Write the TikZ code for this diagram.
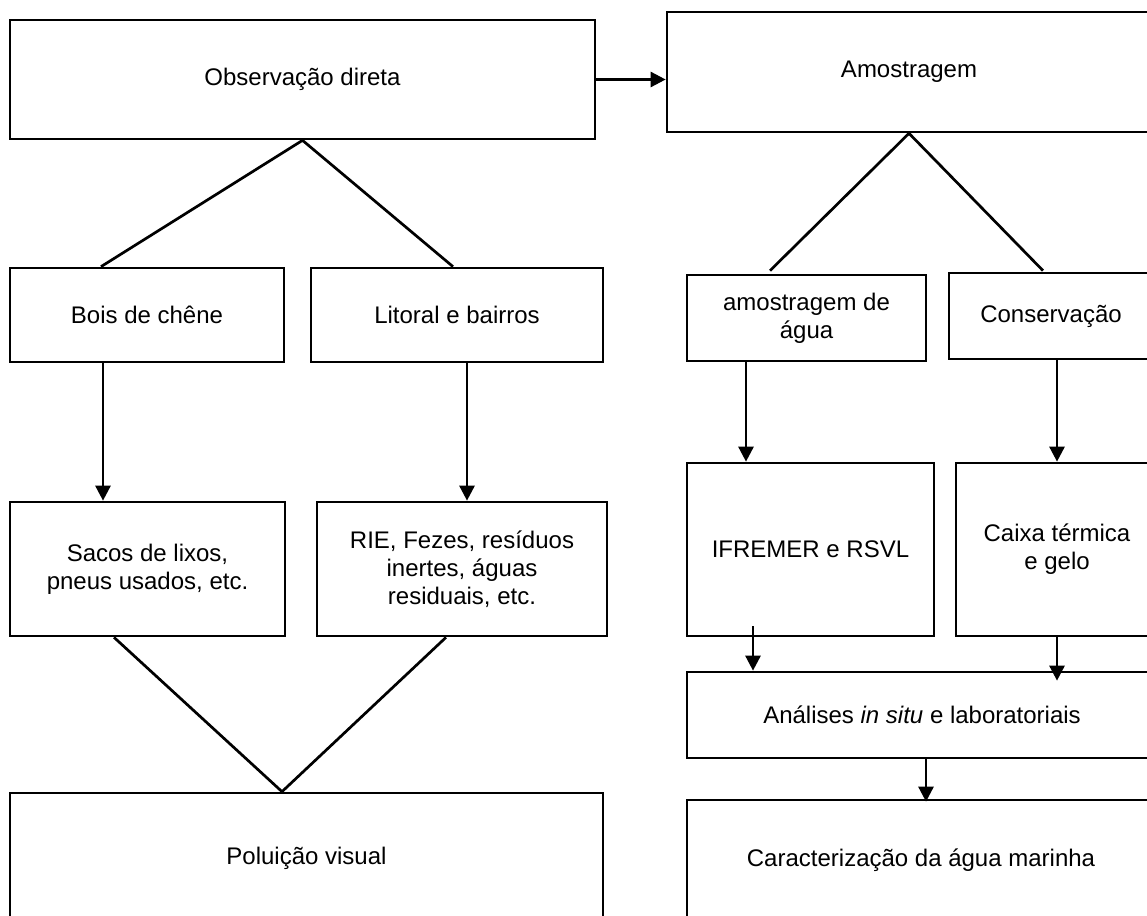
\documentclass[tikz,border=0pt]{standalone}
\usepackage{fontspec}
\setmainfont{Liberation Sans}
\usetikzlibrary{arrows.meta,calc}
\tikzset{
  box/.style={draw=black, line width=2.7pt, rectangle, inner sep=0pt, align=center,
              font=\fontsize{24}{28}\selectfont},
  conn/.style={draw=black, line width=2.7pt},
  arr/.style={conn, -{Triangle[width=15pt,length=15pt]}}
}
\begin{document}
\begin{tikzpicture}[x=1pt,y=-1pt]
\useasboundingbox (0,0) rectangle (1147,915);
\clip (0,0) rectangle (1147,915);
% left column
\node[box, minimum width=585pt, minimum height=119pt] (obs) at (302.5,79.5) {Observação direta};
\node[box, minimum width=274pt, minimum height=94pt] (bois) at (147,315) {Bois de chêne};
\node[box, minimum width=292pt, minimum height=94pt] (lit) at (457,315) {Litoral e bairros};
\node[box, minimum width=275pt, minimum height=134pt] (sacos) at (147.5,569) {Sacos de lixos,\\pneus usados, etc.};
\node[box, minimum width=290pt, minimum height=134pt] (rie) at (462,569) {RIE, Fezes, resíduos\\inertes, águas\\residuais, etc.};
\node[box, minimum width=593pt, minimum height=130pt] (polu) at (306.5,858) {Poluição visual};
% right column
\node[box, minimum width=484pt, minimum height=120pt] (amo) at (909,72) {Amostragem};
\node[box, minimum width=239pt, minimum height=86pt] (agua) at (806.5,318) {amostragem de\\água};
\node[box, minimum width=204pt, minimum height=86pt] (cons) at (1051,316) {Conservação};
\node[box, minimum width=247pt, minimum height=173pt] (ifr) at (810.5,549.5) {IFREMER e RSVL};
\node[box, minimum width=202pt, minimum height=173pt] (caixa) at (1057,549.5) {Caixa térmica\\e gelo};
\node[box, minimum width=470pt, minimum height=86pt] (anal) at (922,715) {Análises \textit{in situ} e laboratoriais};
\node[box, minimum width=468pt, minimum height=120pt] (car) at (921,860) {Caracterização da água marinha};
% connectors left
\draw[arr] (obs.east) -- (obs.east -| amo.west);
\draw[conn] ([xshift=-46pt]bois.north) -- (obs.south) -- ([xshift=-4pt]lit.north);
\draw[arr] ([xshift=-44pt]bois.south) -- ([xshift=-44pt]bois.south |- sacos.north);
\draw[arr] ([xshift=10pt]lit.south) -- ([xshift=10pt]lit.south |- rie.north);
\draw[conn] ([xshift=-33.5pt]sacos.south) -- ([xshift=-24.5pt]polu.north) -- ([xshift=-16pt]rie.south);
% connectors right
\draw[conn] ([xshift=-36.5pt,yshift=3pt]agua.north) -- (amo.south) -- ([xshift=-8pt,yshift=1pt]cons.north);
\draw[arr] ([xshift=-60.5pt]agua.south) -- ([xshift=-60.5pt]agua.south |- ifr.north);
\draw[arr] ([xshift=6pt]cons.south) -- ([xshift=6pt]cons.south |- caixa.north);
\draw[arr] ([xshift=-57.5pt,yshift=11pt]ifr.south) -- ([xshift=-57.5pt]ifr.south |- anal.north);
\draw[arr] (caixa.south) -- ($(caixa.south |- anal.north)+(0,10)$);
\draw[arr] ([xshift=4pt]anal.south) -- ($([xshift=4pt]anal.south |- car.north)+(0,3)$);
\end{tikzpicture}
\end{document}
